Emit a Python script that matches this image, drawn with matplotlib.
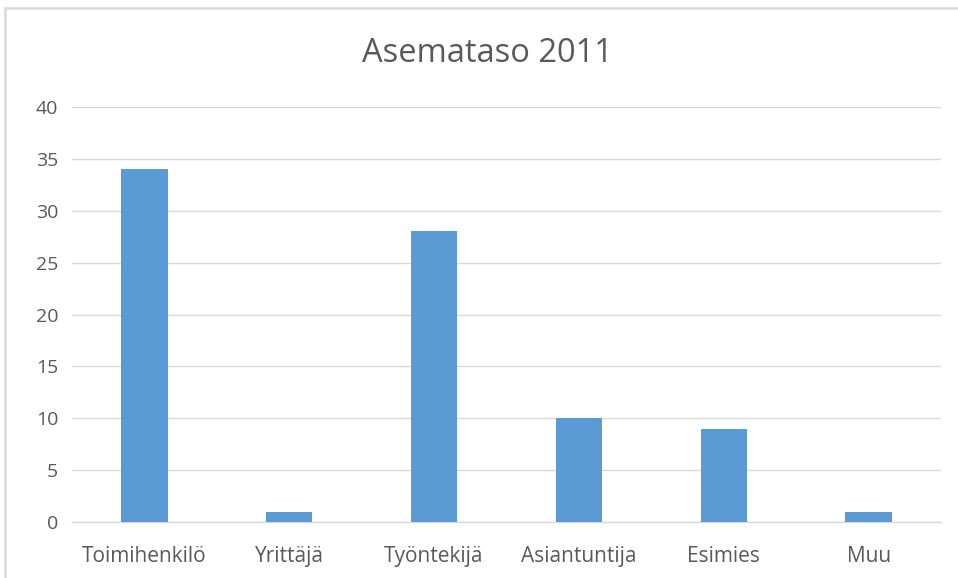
import matplotlib
matplotlib.use("Agg")
import matplotlib.pyplot as plt
from matplotlib.patches import Rectangle

categories = ["Toimihenkilö", "Yrittäjä", "Työntekijä", "Asiantuntija", "Esimies", "Muu"]
values = [34, 1, 28, 10, 9, 1]
yticks = [0, 5, 10, 15, 20, 25, 30, 35, 40]
title = "Asemataso 2011"

W, H = 958, 578
fig = plt.figure(figsize=(W / 100, H / 100), dpi=100)
fig.patch.set_facecolor("white")

# chart area frame
fig.add_artist(Rectangle((4.5 / W, -0.05), 1.1, 1.05 - 8.5 / H,
                         transform=fig.transFigure, fill=False,
                         edgecolor="#d9d9d9", linewidth=1.8))

ax = fig.add_axes([72 / W, (H - 522) / H, (941 - 72) / W, (522 - 107) / H])
x = range(len(categories))
ax.bar(x, values, width=0.32, color="#5b9bd5", zorder=3)

ax.set_xlim(-0.5, len(categories) - 0.5)
ax.set_ylim(0, 40)
ax.set_yticks(yticks)
ax.set_xticks(list(x))
ax.set_xticklabels(categories)
ax.yaxis.grid(True, color="#d9d9d9", linewidth=1.0, zorder=0)
ax.set_axisbelow(True)
for s in ["left", "right", "top"]:
    ax.spines[s].set_visible(False)
ax.spines["bottom"].set_color("#d9d9d9")
ax.spines["bottom"].set_linewidth(1.0)
ax.tick_params(axis="both", length=0, colors="#595959")
ax.tick_params(axis="y", pad=10, labelsize=14)
ax.tick_params(axis="x", pad=17, labelsize=15)
for lbl in ax.get_xticklabels() + ax.get_yticklabels():
    lbl.set_fontfamily("Open Sans")

fig.text(487 / W, 1 - 53 / H, title, ha="center", va="center",
         fontsize=23.5, color="#595959", fontfamily="Open Sans")

fig.savefig("out.png", dpi=100)
